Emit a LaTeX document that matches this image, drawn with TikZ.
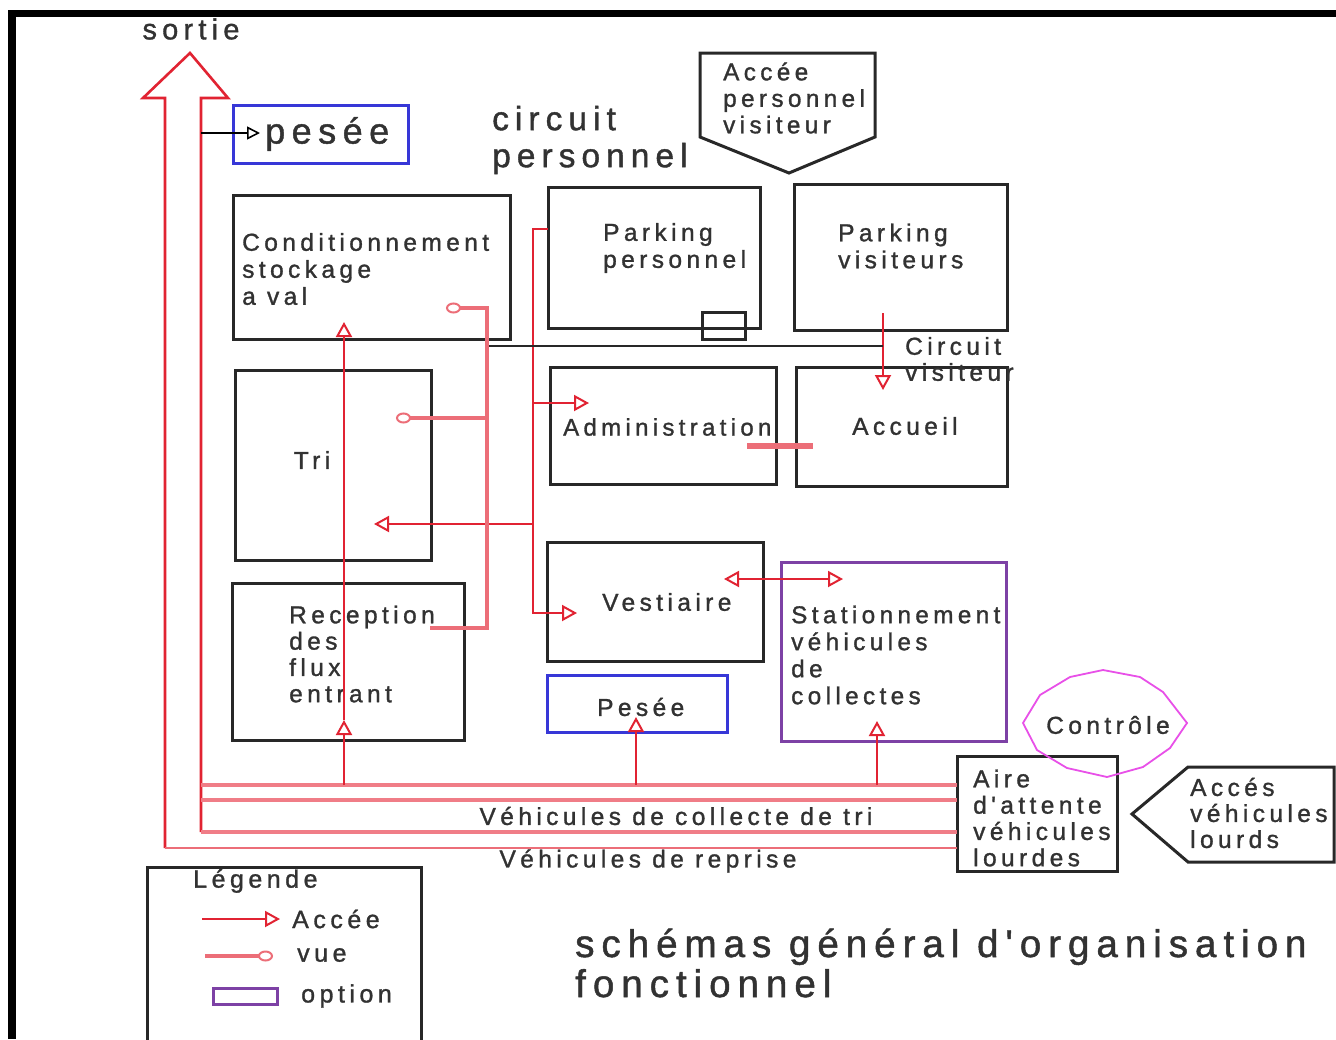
\documentclass[tikz,border=0pt]{standalone}
\usepackage{fontspec}
\setmainfont{Liberation Sans}
\newfontfamily\lab[LetterSpace=18,FakeBold=1.2]{Liberation Sans}
\newcommand\fsz[2]{\lab\fontsize{#1}{#2}\selectfont}
\usetikzlibrary{arrows.meta,fit}
\definecolor{accc}{RGB}{225,35,50}
\definecolor{vuec}{RGB}{236,110,120}
\definecolor{bandc}{RGB}{240,125,135}
\definecolor{boxc}{RGB}{40,40,40}
\definecolor{txtc}{RGB}{50,50,50}
\definecolor{bluec}{RGB}{55,55,215}
\definecolor{optc}{RGB}{125,65,165}
\definecolor{ctrlc}{RGB}{232,80,232}
\begin{document}
\begin{tikzpicture}[x=1pt,y=-1pt,
  box/.style={draw=boxc, line width=3pt, inner sep=0pt, outer sep=0pt},
  bluebox/.style={box, draw=bluec},
  optbox/.style={box, draw=optc},
  lbl/.style={text=txtc, inner sep=0pt, align=left},
  acc/.style={draw=accc, line width=2.3pt},
  tipacc/.style={-{Triangle[open,length=15pt,width=16pt,line width=2pt]}},
  accarrow/.style={acc, tipacc},
  vue/.style={draw=vuec, line width=3.2pt, -{Circle[open,length=15pt,width=11pt,line width=2pt]}},
  bandline/.style={draw=bandc, line width=4pt},
  outline/.style={draw=accc, line width=2.6pt},
]
\useasboundingbox (0,0) rectangle (1336,1039);
\fill[white] (0,0) rectangle (1336,1039);
% outer frame
\fill[black] (8,10) rectangle (1336,17);
\fill[black] (8,10) rectangle (16,1039);

% ---------- boxes ----------
\node[bluebox, fit={(233,105) (408,163)}] (peseeT) {};
\node[box, fit={(233,195) (510,339)}] (cond) {};
\node[box, fit={(548,187) (760,328)}] (parkP) {};
\node[box, fit={(794,184) (1007,330)}] (parkV) {};
\node[box, fit={(702,312) (745,339)}] (gate) {};
\node[box, fit={(235,370) (431,560)}] (tri) {};
\node[box, fit={(550,367) (776,484)}] (admin) {};
\node[box, fit={(796,367) (1007,486)}] (accueil) {};
\node[box, fit={(232,583) (464,740)}] (recep) {};
\node[box, fit={(547,542) (763,661)}] (vest) {};
\node[bluebox, fit={(547,675) (727,732)}] (pesee) {};
\node[optbox, fit={(781,562) (1006,741)}] (station) {};
\node[box, fit={(957,756) (1117,871)}] (aire) {};

% access pentagons
\coordinate (apA) at (700,53);
\coordinate (apB) at (875,53);
\coordinate (apC) at (875,137);
\coordinate (apD) at (789,173);
\coordinate (apE) at (700,137);
\draw[box] (apA) -- (apB) -- (apC) -- (apD) -- (apE) -- cycle;
\coordinate (alA) at (1132,814);
\coordinate (alB) at (1188,767);
\coordinate (alC) at (1334,767);
\coordinate (alD) at (1334,862);
\coordinate (alE) at (1188,862);
\draw[box] (alA) -- (alB) -- (alC) -- (alD) -- (alE) -- cycle;

% control polygon
\draw[ctrlc, line width=1.8pt] (1023,723) -- (1040,695) -- (1070,677) -- (1103,670)
  -- (1140,677) -- (1163,692) -- (1187,723) -- (1170,748) -- (1143,767)
  -- (1107,777) -- (1067,768) -- (1037,750) -- cycle;

% ---------- labels ----------
\node[lbl, font=\fsz{29}{32}] (sortie) at (191,29) {sortie};
\node[lbl, font=\fsz{36}{38}, anchor=west] (peseeTxt) at (265,134) {pesée};
\node[lbl, font=\fsz{33.5}{37}, anchor=west] (circP) at (492,140) {circuit\\personnel};
\node[lbl, font=\fsz{24.3}{26.5}, anchor=west] (accPers) at (723,98) {Accée\\personnel\\visiteur};
\node[lbl, font=\fsz{24.5}{27}, anchor=west] (condTxt) at (242,269) {Conditionnement\\stockage\\a val};
\node[lbl, font=\fsz{24.5}{27}, anchor=west] (parkPTxt) at (603,248) {Parking\\personnel};
\node[lbl, font=\fsz{24.5}{27}, anchor=west] (parkVTxt) at (838,246) {Parking\\visiteurs};
\node[lbl, font=\fsz{24.5}{26}, anchor=west] (circV) at (905,359) {Circuit\\visiteur};
\node[lbl, font=\fsz{24.5}{27}] (triTxt) at (312,460) {Tri};
\node[lbl, font=\fsz{24}{27}, anchor=west] (adminTxt) at (563,427) {Administration};
\node[lbl, font=\fsz{24.5}{27}, anchor=west] (accTxt) at (852,426) {Accueil};
\node[lbl, font=\fsz{24.5}{26.3}, anchor=west] (recTxt) at (289,654) {Reception\\des\\flux\\entrant};
\node[lbl, font=\fsz{24.5}{27}, anchor=west] (vestTxt) at (602,602) {Vestiaire};
\node[lbl, font=\fsz{24.5}{27}, anchor=west] (peseeTxt2) at (597,707) {Pesée};
\node[lbl, font=\fsz{24.3}{27}, anchor=west] (statTxt) at (791,655) {Stationnement\\véhicules\\de\\collectes};
\node[lbl, font=\fsz{24.5}{27}] (ctrl) at (1108,725) {Contrôle};
\node[lbl, font=\fsz{24.5}{26.3}, anchor=west] (aireTxt) at (973,818) {Aire\\d'attente\\véhicules\\lourdes};
\node[lbl, font=\fsz{24.5}{26}, anchor=west] (accLourd) at (1190,813) {Accés\\véhicules\\lourds};
\node[lbl, font=\fsz{24.5}{27}] (collTri) at (676,816) {Véhicules de collecte de tri};
\node[lbl, font=\fsz{24.5}{27}] (reprise) at (648,861) {Véhicules de reprise};
\node[lbl, font=\fsz{38.6}{40}, anchor=west] (title) at (575,963) {schémas général d'organisation\\fonctionnel};

% ---------- exit arrow and vehicle lanes ----------
\coordinate (outBot) at (165,848);
\coordinate (inBot) at (201,832);
\draw[outline, line join=miter] (outBot) -- (165,98) -- (143,98) -- (190,53) -- (228,98) -- (201,98) -- (inBot);
\coordinate (laneA) at (201,785);
\coordinate (laneB) at (201,800);
\draw[bandline] (laneA) -- (aire.west |- laneA);
\draw[bandline] (laneB) -- (aire.west |- laneB);
\draw[bandline] (inBot) -- (aire.west |- inBot);
\draw[outline, line width=2.2pt, draw=vuec] (outBot) -- (aire.west |- outBot);

% weighing access at the top
\coordinate (peseeIn) at (260,133);
\draw[black, line width=2pt, -{Triangle[open,length=13pt,width=13pt,line width=1.6pt]}] (201,133) -- (peseeIn);

% ---------- access connectors ----------
\coordinate (recIn) at (344,720);
\coordinate (condIn) at (344,322);
\draw[accarrow] (344,785) -- (recIn);
\draw[accarrow] (344,720) -- (condIn);
\draw[accarrow] (636,785) -- (636,717);
\draw[accarrow] (877,785) -- (877,721);

\coordinate (staffTop) at (533,229);
\coordinate (vestIn) at (577,613);
\coordinate (adminIn) at (589,403);
\coordinate (triIn) at (374,524);
\draw[accarrow] (parkP.west |- staffTop) -- (staffTop) -- (533,613) -- (vestIn);
\draw[accarrow] (533,403) -- (adminIn);
\draw[accarrow] (533,524) -- (triIn);

\draw[accarrow] (883,313) -- (883,390);
\draw[box, line width=2.6pt] (487,346) -- (883,346);
\draw[vuec, line width=6pt] (747,446) -- (813,446);

\draw[acc, {Triangle[open,length=15pt,width=16pt,line width=2pt]}-{Triangle[open,length=15pt,width=16pt,line width=2pt]}] (724,579) -- (843,579);

% ---------- view connectors ----------
\coordinate (condView) at (446,308);
\coordinate (triView) at (396,418);
\draw[vue] (430,628) -- (487,628) -- (487,308) -- (condView);
\draw[vue] (487,418) -- (triView);

% ---------- legend ----------
\draw[box] (147,1045) -- (147,867) -- (421,867) -- (421,1045);
\node[lbl, font=\fsz{25}{28}, anchor=west] (legTitle) at (193,881) {Légende};
\coordinate (legA) at (202,919);
\coordinate (legB) at (280,919);
\draw[accarrow, line width=1.8pt] (legA) -- (legB);
\node[lbl, font=\fsz{25}{28}, anchor=west] (legAcc) at (292,919) {Accée};
\coordinate (legC) at (205,956);
\coordinate (legD) at (273,956);
\draw[vue] (legC) -- (legD);
\node[lbl, font=\fsz{25}{28}, anchor=west] (legVue) at (297,955) {vue};
\node[optbox, fit={(213,988) (277,1004)}] (legOpt) {};
\node[lbl, font=\fsz{25}{28}, anchor=west] (legOptTxt) at (301,996) {option};
\end{tikzpicture}
\end{document}
